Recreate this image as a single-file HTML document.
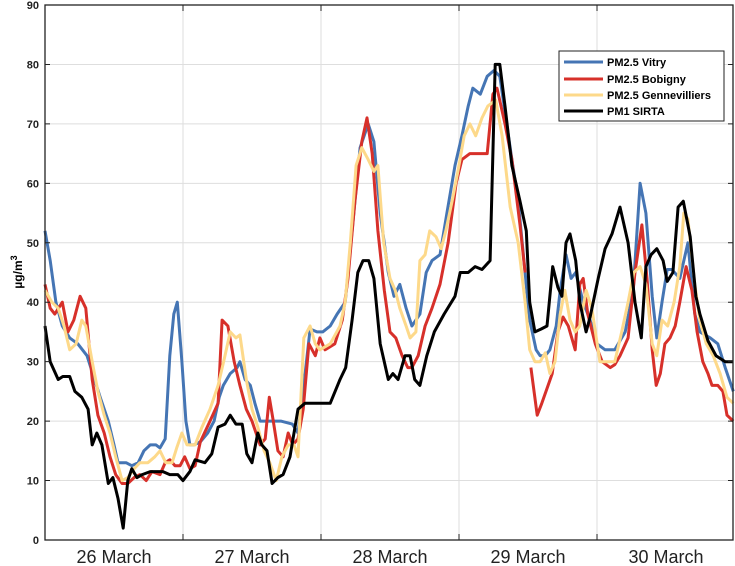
<!DOCTYPE html>
<html><head><meta charset="utf-8"><style>
html,body{margin:0;padding:0;background:#fff;}
svg{display:block;font-family:"Liberation Sans",Arial,sans-serif;}
</style></head><body>
<svg id="chart" width="735" height="566" viewBox="0 0 735 566">
<g id="grid"></g>
<g id="series"></g>
<g id="axes"></g>
<text transform="translate(22,272) rotate(-90)" text-anchor="middle" font-size="12" font-weight="bold">µg/m<tspan dy="-5" font-size="9">3</tspan></text>
<g>
<rect x="559" y="51" width="165" height="70" fill="#fff" stroke="#222" stroke-width="1"></rect>
<g><line x1="564" y1="62" x2="603" y2="62" stroke="#4575b4" stroke-width="3"></line><text x="607" y="66" font-size="11" font-weight="bold">PM2.5 Vitry</text></g>
<g><line x1="564" y1="79" x2="603" y2="79" stroke="#d7302a" stroke-width="3"></line><text x="607" y="83" font-size="11" font-weight="bold">PM2.5 Bobigny</text></g>
<g><line x1="564" y1="95" x2="603" y2="95" stroke="#fdd98a" stroke-width="3"></line><text x="607" y="99" font-size="11" font-weight="bold">PM2.5 Gennevilliers</text></g>
<g><line x1="564" y1="111" x2="603" y2="111" stroke="#000" stroke-width="3"></line><text x="607" y="115" font-size="11" font-weight="bold">PM1 SIRTA</text></g>
</g>
</svg>
<script>
const yTicks=[0,10,20,30,40,50,60,70,80,90];
const dayTicks=[24,48,72,96];
const dayLabelHours=[12,36,60,84,108];
const dayLabels=["26 March","27 March","28 March","29 March","30 March"];
const vitry=[[0,52],[0.9,47],[1.9,40],[3,36],[4.3,34],[5.7,33],[7.3,31],[8.3,28],[9.6,24],[11,20],[12,16],[12.7,13],[14.1,13],[15.1,12.5],[16.2,13],[17.2,15],[18.3,16],[19.3,16],[20,15.5],[20.9,17],[21.7,31],[22.4,38],[23,40],[23.8,30],[24.5,20],[25.2,16],[25.9,16],[27,16.5],[28.3,18],[29.4,20],[30.3,24],[31,26],[32.2,28],[33.4,29],[33.9,30],[34.8,27],[35.7,26],[36.5,23],[37.4,20],[38.3,20],[39.5,20],[41,20],[43,19.5],[44,18],[45,26],[46.1,35.5],[47.3,35],[48.3,35],[49.6,36],[50.8,38],[52.2,40],[53.4,52],[54.8,66],[56.2,70],[57.2,67],[58.3,55],[59.7,45],[60.7,41],[61.7,43],[62.8,39],[63.8,36],[65.2,38],[66.3,45],[67.3,47],[68.7,48],[69.9,55],[71.3,63],[72.5,68],[73.6,73],[74.4,76],[75.7,75],[76.9,78],[78.1,79],[79.1,78],[80,72],[81.2,64],[82.3,57],[83.5,45],[84.3,37],[85.4,32],[86.1,31],[87,31],[87.8,32],[88.9,36],[89.6,42],[90.6,48],[91.5,44],[92.3,45],[93.6,40],[94.8,37],[96,33],[97.4,32],[99.1,32],[100.9,35],[102.3,42],[103.5,60],[104.5,55],[105.6,41],[106.4,34],[107.3,40],[108.2,45.5],[109,45.5],[110.4,44],[111.8,50],[113,38],[113.9,35],[115.7,34],[117,33],[118.3,29],[119.7,25]];
const bobigny=[[0,43],[0.9,39],[1.7,38],[3,40],[4,35],[5,37],[6.1,41],[7.1,39],[8.2,27],[9.2,21],[10.3,18],[11.3,14],[12.3,11],[13.4,9.5],[14.4,9.5],[15.5,10.5],[16.5,11],[17.6,10],[18.6,11.5],[20,11],[20.9,13],[21.7,13.5],[22.6,12.5],[23.5,12.5],[24.3,14],[25.2,12],[26.1,12.5],[27,16.5],[28.7,20],[30.1,23],[30.8,37],[31.8,36],[32.9,30],[33.9,26],[35,22],[36,20],[37.4,16],[38.3,17],[39,24],[39.7,20],[40.5,15],[41.4,14],[42.3,18],[43.1,16],[44,17],[44.9,22],[45.9,33],[47,31],[47.8,34],[48.7,32],[50.4,33],[51.7,37],[52.7,44],[53.9,57],[55.1,67],[56,71],[56.9,65],[57.9,52],[59,42],[60,35],[61,34],[62.1,31],[63.1,29],[63.8,29],[64.9,31],[66.1,36],[67.3,39],[68.7,43],[70.1,50],[71.5,60],[72.5,64],[73.9,65],[75.7,65],[76.9,65],[77.9,75],[78.6,76],[80,70],[81.2,64],[82.6,53],[83.5,45],null,[84.5,29],[85.6,21],[86.4,23],[87.5,26],[88.2,28],[89.2,35],[90.1,37.5],[91,36],[92.2,32],[93,43],[93.6,44],[94.4,38],[95.7,33],[96.9,30],[98.3,29],[99.1,29.5],[100,31],[101.4,34],[102.6,45],[103.8,53],[104.7,44],[105.6,32],[106.3,26],[107,28],[107.8,33],[108.7,34],[109.6,36],[110.4,40],[111.5,46],[112.5,42],[113.4,35],[114.4,30],[115.3,28],[116,26],[117,26],[117.9,25],[118.6,21],[119.7,20]];
const gennevilliers=[[0,42],[1.2,40],[2.3,39],[3.3,36],[4.3,32],[5.4,33],[6.4,37],[7.1,36],[8.2,30],[9.2,25],[10.3,21],[11.3,18],[12.3,14],[13.4,10],[14.4,10.5],[15.5,12],[16.5,13],[17.9,13],[19.1,14],[20,15],[21,13],[22.1,13],[22.9,15.5],[23.8,18],[24.7,16],[26.1,16],[27.3,19],[28.7,22],[30.1,26],[31.3,31],[32.2,35],[33.2,34],[33.9,34.5],[35,27],[36,22],[37,19],[38.1,15],[39.1,13],[40.2,10],[41.2,14],[42.3,16],[43.3,16],[44,14],[45,34],[46.1,36],[47,33],[47.8,32],[49.6,33],[51.3,36],[52.2,40],[53.1,50],[54.1,63],[55.1,66],[56.2,64],[57.2,62],[57.9,63],[58.9,50],[60,44],[60.9,42],[61.7,39],[62.8,36],[63.5,34],[64.5,35],[65.2,47],[66.1,48],[66.9,52],[68,51],[68.9,49],[69.7,52],[70.8,57],[71.8,62],[72.9,68],[73.9,70],[74.9,68],[76,71],[77,73],[78.4,74],[79.5,68],[80.9,56],[82.3,50],[83.5,40],[84.3,32],[85.2,30],[86.1,30],[87,31.5],[87.8,28],[88.7,30],[89.6,38],[90.4,42],[91.3,37],[92.2,35],[93,36],[94.1,42],[95.1,39],[96.5,30],[97.7,30],[99.1,30],[100.3,35],[101.4,40],[102.4,45],[103.5,46],[104.5,43],[105.6,33],[106.4,31],[107.3,37],[108.3,36],[109.4,40],[110.4,46],[111.1,55],[111.8,54],[113,43],[113.9,37],[115,33],[116.2,31],[117.4,28],[118.6,24],[119.7,23]];
const sirta=[[0,36],[0.9,30],[2.3,27],[3.1,27.5],[4.3,27.5],[5.2,25],[6.4,24],[7.5,22],[8.2,16],[9,18],[9.9,16],[11,9.5],[11.8,10.5],[12.7,7],[13.6,2],[14.4,10],[15.1,12],[16,10.5],[16.9,11],[18.3,11.5],[20.5,11.5],[21.7,11],[23.1,11],[24,10],[25.2,11.5],[26.1,13.5],[27.8,13],[29,14.5],[30.1,19],[31.3,19.5],[32.2,21],[33.2,19.5],[34.3,19.5],[35.1,14.5],[36,13],[37,18],[37.7,16],[38.6,15],[39.5,9.5],[40.5,10.5],[41.4,11],[42.6,14],[44,22],[45.2,23],[46.1,23],[47.8,23],[49.6,23],[51.3,27],[52.3,29],[53.4,37],[54.4,45],[55.3,47],[56.3,47],[57.2,44],[58.3,33],[59.7,27],[60.5,28],[61.4,27],[62.6,31],[63.5,31],[64.3,27],[65.2,26],[66.4,31],[67.7,35],[69.4,38],[71.3,41],[72.2,45],[73.6,45],[74.8,46],[76,45.5],[77.4,47],[78.3,80],[79.1,80],[80,73],[81.2,63],[82.6,57],[83.7,52],[84.3,40],[85.2,35],[86.3,35.5],[87.3,36],[88.3,46],[89.2,42.5],[89.9,41],[90.6,50],[91.3,51.5],[92.3,47],[93,40],[94.1,35],[94.8,37.5],[96.2,44],[97.4,49],[98.6,51.5],[100,56],[101.4,50],[102.6,40],[103.7,34],[104.5,46],[105.4,48],[106.4,49],[107.5,47],[108.2,43.5],[109.2,45],[110.1,56],[111,57],[112.2,51],[113.2,41],[113.9,38],[115.3,33.5],[116.7,31],[118.3,30],[119.7,30]];

const NS="http://www.w3.org/2000/svg";
const L=45,R=733,T=5,B=540,HMAX=119.65,YMAX=90;
function xs(h){return L+h/HMAX*(R-L);}
function ys(v){return B-v/YMAX*(B-T);}
function mk(tag,attrs,parent){const e=document.createElementNS(NS,tag);for(const k in attrs)e.setAttribute(k,attrs[k]);parent.appendChild(e);return e;}
const grid=document.getElementById('grid'),axes=document.getElementById('axes'),ser=document.getElementById('series');
yTicks.forEach(v=>{
  if(v>0&&v<YMAX){const g=mk('line',{x1:L,x2:R,y1:ys(v),y2:ys(v),stroke:'#dedede','stroke-width':1},grid);
  
  }
  const tk=mk('path',{d:`M${L},${ys(v)}h5M${R},${ys(v)}h-5`,stroke:'#222','stroke-width':1},axes);
  
  
  const t=mk('text',{x:L-6,y:ys(v)+4,'text-anchor':'end','font-size':11,'font-weight':'bold',fill:'#222'},axes);
  t.textContent=v;
  
  
});
dayTicks.forEach(h=>{
  const g=mk('line',{x1:xs(h),x2:xs(h),y1:T,y2:B,stroke:'#dedede','stroke-width':1},grid);
  
  
  const tk=mk('path',{d:`M${xs(h)},${B}v-6M${xs(h)},${T}v6`,stroke:'#222','stroke-width':1},axes);
  
  
});
dayLabelHours.forEach((h,i)=>{
  const t=mk('text',{x:xs(h),y:563,'text-anchor':'middle','font-size':18,fill:'#222'},axes);
  t.textContent=dayLabels[i];
  
  
});
const box=mk('rect',{x:L,y:T,width:R-L,height:B-T,fill:'none',stroke:'#222','stroke-width':1.3},axes);


function path(data){let d='',pen=false;data.forEach(p=>{if(!p){pen=false;return;}d+=(pen?'L':'M')+xs(p[0]).toFixed(1)+','+ys(p[1]).toFixed(1);pen=true;});return d;}
[[vitry,'#4575b4','line-pm25-vitry'],[bobigny,'#d7302a','line-pm25-bobigny'],[gennevilliers,'#fdd98a','line-pm25-gennevilliers'],[sirta,'#000','line-pm1-sirta']].forEach(s=>{
  const p=mk('path',{d:path(s[0]),fill:'none',stroke:s[1],'stroke-width':3,'stroke-linejoin':'round'},ser);
  
  
});
</script>
</body></html>
